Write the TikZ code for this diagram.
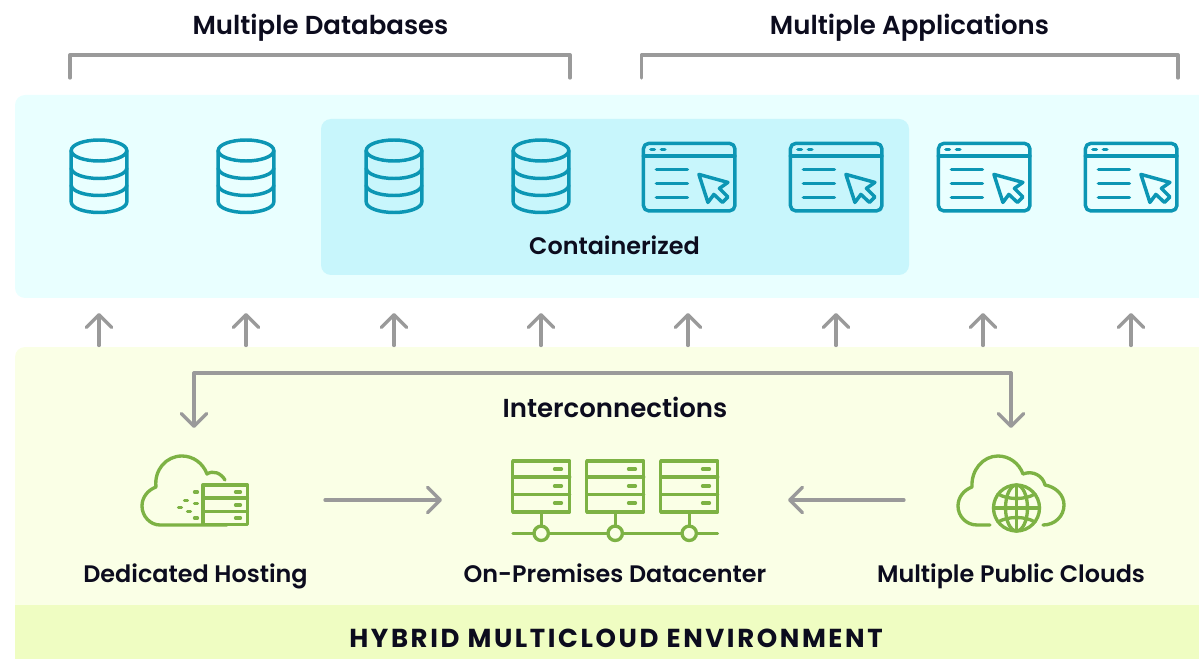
\documentclass[tikz,border=0pt]{standalone}
\usepackage{fontspec}
\setmainfont{Open Sans}[BoldFont={* Bold}]
\newfontfamily\popp{Poppins}[BoldFont={* SemiBold}]
\newfontfamily\poppsp{Poppins}[BoldFont={* Bold},LetterSpace=10]
\usetikzlibrary{arrows.meta}
\definecolor{teal1}{HTML}{0C96B4}
\definecolor{green1}{HTML}{7DB244}
\definecolor{gray1}{HTML}{9A9A9A}
\definecolor{ink}{HTML}{0C0C1E}
\definecolor{panelA}{HTML}{E9FFFF}
\definecolor{panelB}{HTML}{C8F6FC}
\definecolor{panelC}{HTML}{FAFFE6}
\definecolor{panelD}{HTML}{EFFDC2}
\tikzset{
  x=0.75pt,y=-0.75pt,
  label/.style={inner sep=0pt,anchor=base,font=\popp\fontsize{19.5}{22}\selectfont\bfseries,text=ink},
  small/.style={inner sep=0pt,anchor=base,font=\popp\fontsize{17.9}{22}\selectfont\bfseries,text=ink},
  banner/.style={inner sep=0pt,anchor=base,font=\poppsp\fontsize{19.5}{22}\selectfont\bfseries,text=ink},
  conn/.style={draw=gray1,line width=2.5pt,line cap=round,line join=round},
  tip/.style={-{Straight Barb[round,length=9.5pt,width=19pt,line width=2.5pt]}},
  iconT/.style={draw=teal1,line width=2.6pt,line join=round,line cap=round},
  iconG/.style={draw=green1,line width=2.5pt,line join=round,line cap=round},
  db/.pic={
    \draw[iconT] (0,12) ellipse[x radius=27.8,y radius=10.5];
    \draw[iconT] (-27.8,12) -- (-27.8,63.5) arc[start angle=180,end angle=0,x radius=27.8,y radius=10.5] -- (27.8,12);
    \draw[iconT] (-27.8,29.5) arc[start angle=180,end angle=0,x radius=27.8,y radius=10.5];
    \draw[iconT] (-27.8,46.5) arc[start angle=180,end angle=0,x radius=27.8,y radius=10.5];
  },
  win/.pic={
    \draw[iconT,rounded corners=4pt] (0,0) rectangle (91.5,67.5);
    \draw[iconT] (0,12.5) -- (91.5,12.5);
    \draw[iconT] (7.5,6) -- (11,6) (18,6) -- (21.5,6);
    \draw[iconT] (13,26) -- (44,26) (13,40) -- (44,40) (13,54) -- (44,54);
    \draw[iconT] (55.5,31) -- (84.5,39) -- (76,45) -- (84.5,53.5) -- (79,59) -- (70.5,51) -- (64.5,59) -- cycle;
  },
  rack/.pic={
    \draw[iconG] (0,0) rectangle (57,51);
    \draw[iconG] (0,16) -- (57,16) (0,33.5) -- (57,33.5);
    \draw[iconG] (41.8,8) -- (48.8,8) (41.8,25) -- (48.8,25) (41.8,42) -- (48.8,42);
    \draw[iconG] (28.5,51) -- (28.5,72);
  }
}
\begin{document}
\begin{tikzpicture}
\useasboundingbox (0,0) rectangle (1199,659);
% panels
\fill[panelA,rounded corners=7.5pt] (15,95) rectangle (1215,298);
\fill[panelB,rounded corners=7.5pt] (321,119) rectangle (909,275);
\fill[panelC,rounded corners=7.5pt] (15,347) rectangle (1215,680);
\fill[panelD] (15,605) rectangle (1199,659);
% headings
\node[label] (hdb) at (320.5,35) {Multiple Databases};
\node[label] (hap) at (909.5,35) {Multiple Applications};
\node[small] (hcon) at (614.5,255) {Containerized};
\node[label] (hint) at (615,417) {Interconnections};
\node[small] (hded) at (195.5,582) {Dedicated Hosting};
\node[small] (hprem) at (615,582) {On-Premises Datacenter};
\node[small] (hpub) at (1011,582) {Multiple Public Clouds};
\node[banner] (hhyb) at (616,647) {HYBRID MULTICLOUD ENVIRONMENT};
% brackets
\coordinate (b1a) at (70,78); \coordinate (b1b) at (70,55); \coordinate (b1c) at (570,55); \coordinate (b1d) at (570,78);
\coordinate (b2a) at (641.5,78); \coordinate (b2b) at (641.5,55); \coordinate (b2c) at (1178,55); \coordinate (b2d) at (1178,78);
\draw[conn] (b1a) -- (b1b) -- (b1c) -- (b1d);
\draw[conn] (b2a) -- (b2b) -- (b2c) -- (b2d);
% databases
\foreach \x in {99,246,394,541}{ \pic at (\x,138.5) {db}; }
% windows
\foreach \x in {643.4,790.4,938.4,1085.4}{ \pic at (\x,143.4) {win}; }
% up arrows
\foreach \n/\x in {a/99,b/246,c/394,d/541,e/688,f/836,g/983,h/1131}{
  \coordinate (u\n0) at (\x,345.5); \coordinate (u\n1) at (\x,313);
  \draw[conn,tip] (u\n0) -- (u\n1);
}
% interconnections
\coordinate (i0) at (194,428); \coordinate (i1) at (194,373); \coordinate (i2) at (1011,373); \coordinate (i3) at (1011,428);
\draw[conn,tip] (i1) -- (i0);
\draw[conn,tip] (i2) -- (i3);
\draw[conn] (i1) -- (i2);
\coordinate (h0) at (325,500); \coordinate (h1) at (442,500);
\draw[conn,tip] (h0) -- (h1);
\coordinate (p0) at (904,500); \coordinate (p1) at (788,500);
\draw[conn,tip] (p0) -- (p1);
% dedicated hosting icon
\draw[iconG] (227,525) -- (160,525) .. controls (150,525) and (142,516) .. (142,506) .. controls (142,497) and (148,490) .. (156,487)
  .. controls (154,470) and (166,456) .. (182,456) .. controls (193,456) and (203,463) .. (207,474)
  .. controls (213,470) and (221,473) .. (225,480);
\draw[iconG] (203,485) rectangle (247.5,524.5);
\draw[iconG] (203,498) -- (247.5,498) (203,511.5) -- (247.5,511.5);
\draw[iconG] (235.5,492) -- (240.5,492) (235.5,505) -- (240.5,505) (235.5,518) -- (240.5,518);
\draw[iconG] (194.5,492) -- (197.5,492) (184.5,500.5) -- (187.5,500.5) (194.5,503.5) -- (197.5,503.5)
  (178.5,507.5) -- (181.5,507.5) (187.5,511.5) -- (190.5,511.5) (194.5,518) -- (197.5,518);
% datacenter icon
\draw[iconG] (513,533.3) -- (717.5,533.3);
\foreach \x in {512.7,586.7,660.7}{ \pic at (\x,461) {rack}; }
\foreach \x in {541.2,615.2,689.2}{ \draw[iconG,fill=panelC] (\x,533.3) circle[radius=7.2]; }
% public cloud icon
\draw[iconG] (990,525) -- (977,525) .. controls (966,525) and (958,516) .. (958,506) .. controls (958,497) and (964,490) .. (972,487)
  .. controls (971,470) and (983,456) .. (998,456) .. controls (1009,456) and (1019,463) .. (1023,474)
  .. controls (1033,470) and (1043,476) .. (1045,485) .. controls (1056,487) and (1064,495) .. (1064,505)
  .. controls (1064,516) and (1055,525) .. (1043,525);
\draw[iconG] (1016.5,508) circle[radius=23];
\draw[iconG] (1016.5,508) ellipse[x radius=11,y radius=23];
\draw[iconG] (993.5,508) -- (1039.5,508) (1016.5,485) -- (1016.5,531);
\draw[iconG] (998,494) .. controls (1008,500) and (1025,500) .. (1035,494);
\draw[iconG] (998,522) .. controls (1008,516) and (1025,516) .. (1035,522);
\end{tikzpicture}
\end{document}
